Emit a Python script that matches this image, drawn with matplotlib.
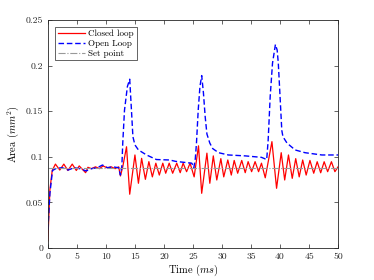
import numpy as np
import matplotlib
matplotlib.use("Agg")
import matplotlib.pyplot as plt
from matplotlib.ticker import FuncFormatter

plt.rcParams["font.family"] = "cmr10"
plt.rcParams["mathtext.fontset"] = "cm"
plt.rcParams["axes.formatter.use_mathtext"] = True

# closed loop response (time in ms, area in mm^2)
t_closed = [0.0, 0.35, 0.75, 1.3, 2.05, 2.75, 3.45, 4.2, 4.9, 5.4, 6.5, 6.9, 7.5, 8.2,
            8.9, 9.5, 10.2, 10.9, 11.6, 12.2, 12.5, 12.9, 13.55, 14.1, 15.0, 15.6,
            16.15, 16.8, 17.4, 18.0, 18.6, 19.2, 19.8, 20.3, 20.9, 21.5, 22.2, 22.8,
            23.3, 23.9, 24.5, 25.2, 25.95, 26.5, 27.4, 27.9, 28.5, 29.1, 29.8, 30.3,
            31.0, 31.6, 32.1, 32.7, 33.4, 34.0, 34.5, 35.1, 35.7, 36.3, 36.8, 37.45,
            38.6, 39.4, 40.2, 40.8, 41.45, 42.1, 42.7, 43.3, 43.9, 44.5, 45.15, 45.8,
            46.4, 47.0, 47.6, 48.2, 48.85, 49.45, 50.0]
a_closed = [0.008, 0.064, 0.085, 0.092, 0.0855, 0.092, 0.085, 0.092, 0.085, 0.090,
            0.0826, 0.0885, 0.087, 0.089, 0.087, 0.090, 0.088, 0.089, 0.087, 0.089,
            0.079, 0.089, 0.111, 0.059, 0.102, 0.071, 0.0983, 0.0753, 0.0947, 0.078,
            0.093, 0.080, 0.093, 0.082, 0.093, 0.082, 0.093, 0.0826, 0.093, 0.0837,
            0.093, 0.078, 0.112, 0.060, 0.104, 0.071, 0.101, 0.0746, 0.098, 0.078,
            0.0965, 0.080, 0.096, 0.082, 0.096, 0.0826, 0.0947, 0.0837, 0.0947, 0.0837,
            0.093, 0.077, 0.1166, 0.0655, 0.1045, 0.0746, 0.102, 0.0764, 0.098, 0.078,
            0.0965, 0.080, 0.096, 0.082, 0.0946, 0.0825, 0.0946, 0.0837, 0.0946,
            0.0837, 0.089]

# open loop response
t_open = [0.0, 0.35, 0.8, 1.5, 2.5, 3.5, 4.5, 5.5, 6.6, 7.5, 8.5, 9.4, 10.3, 11.2, 12.2,
          12.5, 12.75, 12.9, 13.2, 13.7, 14.1, 14.4, 14.65, 15.0, 15.6, 17.0, 18.7,
          21.0, 22.0, 23.9, 24.8, 25.15, 25.4, 25.6, 25.9, 26.2, 26.5, 26.8, 27.1, 27.4,
          27.9, 28.4, 29.4, 31.1, 34.0, 36.8, 37.7, 37.95, 38.3, 38.7, 39.2, 39.5,
          39.7, 40.0, 40.3, 40.5, 41.2, 42.6, 44.3, 47.2, 50.0]
a_open = [0.020, 0.060, 0.085, 0.0875, 0.088, 0.0855, 0.088, 0.087, 0.0845, 0.087,
          0.088, 0.091, 0.088, 0.089, 0.088, 0.080, 0.090, 0.115, 0.151, 0.177, 0.185,
          0.151, 0.122, 0.113, 0.1075, 0.102, 0.097, 0.0965, 0.095, 0.0936, 0.093,
          0.088, 0.098, 0.115, 0.151, 0.177, 0.189, 0.170, 0.144, 0.125, 0.115, 0.109,
          0.1045, 0.102, 0.101, 0.0994, 0.097, 0.118, 0.166, 0.2025, 0.223, 0.217,
          0.2025, 0.166, 0.129, 0.122, 0.115, 0.1075, 0.1045, 0.102, 0.102]

set_point = 0.088

fig = plt.figure(figsize=(3.74, 2.80), dpi=100)
ax = fig.add_axes([0.128, 0.114, 0.776, 0.815])

ax.plot(t_closed, a_closed, color="red", lw=0.9, label="Closed loop")
ax.plot(t_open, a_open, color="blue", lw=1.0, ls=(0, (4, 2)), label="Open Loop")
ax.axhline(set_point, color="0.6", lw=0.8, ls="-.", label="Set point")

ax.set_xlim(0, 50)
ax.set_ylim(0, 0.25)
ax.set_xticks(np.arange(0, 51, 5))
ax.set_yticks([0, 0.05, 0.1, 0.15, 0.2, 0.25])
ax.yaxis.set_major_formatter(FuncFormatter(lambda v, p: "%g" % v))
ax.xaxis.set_major_formatter(FuncFormatter(lambda v, p: "%g" % v))
ax.tick_params(direction="in", top=True, right=True, length=3, width=0.5,
               labelsize=7, colors="0.15")
for s in ax.spines.values():
    s.set_linewidth(0.6)
    s.set_color("0.15")

ax.set_xlabel("Time $(ms)$", fontsize=7.5, labelpad=1)
ax.set_ylabel("Area $(mm^2)$", fontsize=7.5, labelpad=3)

leg = ax.legend(loc="upper left", fontsize=6.5, fancybox=False, framealpha=1,
                edgecolor="0.15", handlelength=3, borderpad=0.3, labelspacing=0.15,
                handletextpad=0.4, borderaxespad=0.8)
leg.get_frame().set_linewidth(0.5)

fig.savefig("out.png", dpi=100)
